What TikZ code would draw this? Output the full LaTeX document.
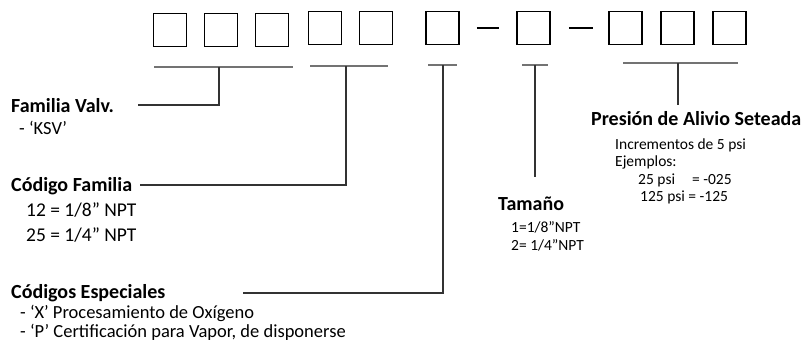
\documentclass[tikz,border=0pt]{standalone}
\usepackage{fontspec}
\setmainfont{Carlito}
\usepackage{tikz}
\usetikzlibrary{positioning,calc}

\tikzset{
  digit/.style={draw, line width=1.6pt, minimum width=33pt, minimum height=33pt, inner sep=0pt},
  brace/.style={line width=1.6pt, draw=black!55},
  lead/.style={line width=1.3pt, draw=black!80},
  head/.style={font=\bfseries\fontsize{20}{22}\selectfont, anchor=base west, inner sep=0pt},
  note/.style={font=\fontsize{18.5}{21}\selectfont, anchor=base west, inner sep=0pt},
  sizenote/.style={font=\fontsize{19.5}{21}\selectfont, anchor=base west, inner sep=0pt},
  small/.style={font=\fontsize{15.5}{17}\selectfont, anchor=base west, inner sep=0pt}
}

\begin{document}
\begin{tikzpicture}[x=1pt, y=-1pt]
		\useasboundingbox (0,0) rectangle (808,348);

		% code boxes
		\node[digit] (d1) at (170,30) {};
		\node[digit] (d2) at (221,30) {};
		\node[digit] (d3) at (272,30) {};
		\node[digit] (d4) at (325,28) {};
		\node[digit] (d5) at (376,28) {};
		\node[digit] (d6) at (442.5,28) {};
		\node[digit] (d7) at (533.5,28) {};
		\node[digit] (d8) at (625.5,28) {};
		\node[digit] (d9) at (677.5,28) {};
		\node[digit] (d10) at (729.5,28) {};

		\draw[line width=1.4pt] ($(d6.east)+(17,0)$) -- ($(d7.west)-(17,0)$);
		\draw[line width=1.4pt] ($(d7.east)+(18,0)$) -- ($(d8.west)-(15,0)$);

		% brackets under the groups
		\draw[brace] (154,67) -- (293,67);
		\draw[brace] (310,66) -- (388,66);
		\draw[brace] (428,65) -- (457,65);
		\draw[brace] (522,65) -- (548,65);
		\draw[brace] (623,63) -- (738,63);
		\coordinate (m1) at (219,67);
		\coordinate (m2) at (346,66);
		\coordinate (m3) at (443,65);
		\coordinate (m4) at (535,65);
		\coordinate (m5) at (678,63);

		% labels
		\node[head] (famv) at (11,112) {Familia Valv.};
		\node[note] (ksv) at (19,134) {- ‘KSV’};
		\coordinate (fend) at (138,105);

		\node[head] (codf) at (11,191) {Código Familia};
		\node[sizenote] (n12) at (26,216) {12 = 1/8” NPT};
		\node[sizenote] (n25) at (26,241) {25 = 1/4” NPT};
		\coordinate (codend) at (140,185);

		\node[head] (cesp) at (11,298) {Códigos Especiales};
		\node[note] (cx) at (20,318) {- ‘X’ Procesamiento de Oxígeno};
		\node[note] (cp) at (20,337) {- ‘P’ Certificación para Vapor, de disponerse};
		\coordinate (cend) at (243,293);

		\node[head] (tam) at (498,210) {Tamaño};
		\node[small] (t1) at (511,232) {1=1/8”NPT};
		\node[small] (t2) at (511,250) {2= 1/4”NPT};
		\coordinate (tend) at (535,177);

		\node[head] (pres) at (591,125) {Presión de Alivio Seteada};
		\node[small] (p1) at (615,149) {Incrementos de 5 psi};
		\node[small] (p2) at (615,166) {Ejemplos:};
		\node[small] (p3) at (638,184) {25 psi\hspace{1.1em}= -025};
		\node[small] (p4) at (640,201) {125 psi = -125};
		\coordinate (pend) at (678,105);

		% leader lines
		\draw[lead] (m1) |- (fend);
		\draw[lead] (m2) |- (codend);
		\draw[lead] (m3) |- (cend);
		\draw[lead] (m4) -- (tend);
		\draw[lead] (m5) -- (pend);
	\end{tikzpicture}
\end{document}
